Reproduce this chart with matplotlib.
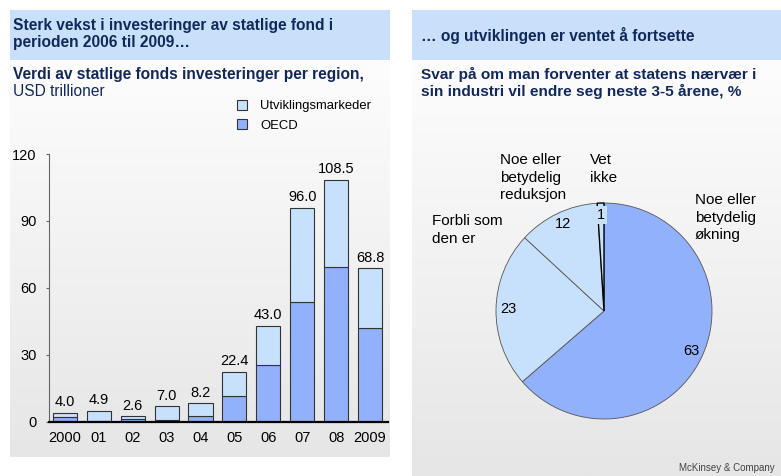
import numpy as np
import matplotlib
matplotlib.use("Agg")
import matplotlib.pyplot as plt
from matplotlib.patches import Rectangle
from matplotlib.colors import LinearSegmentedColormap

plt.rcParams['font.family'] = ['Liberation Sans', 'DejaVu Sans']

# bar chart data, USD trillions
years = ["2000", "01", "02", "03", "04", "05", "06", "07", "08", "2009"]
oecd = [2.2, 0.3, 1.0, 0.8, 2.5, 11.7, 25.3, 53.5, 69.4, 41.9]
totals = [4.0, 4.9, 2.6, 7.0, 8.2, 22.4, 43.0, 96.0, 108.5, 68.8]
emerging = [t - o for t, o in zip(totals, oecd)]

# survey answers, %
pie_values = [63, 23, 12, 1]

W, H = 781, 476
NAVY = "#13285a"
HEAD = "#c8e0fa"
DARK_BLUE = "#91b1fc"
LIGHT_BLUE = "#c7e0fb"


def fx(x):
    return x / W


def fy(y):
    return 1 - y / H


def add_box(x0, y0, x1, y1):
    # figure-fraction rect from pixel corners (y measured from the top)
    return [fx(x0), fy(y1), fx(x1) - fx(x0), fy(y0) - fy(y1)]


fig = plt.figure(figsize=(W / 100, H / 100), dpi=100)

# panel backgrounds: blue header, then a soft white-to-grey gradient
grad = np.linspace(0, 1, 256).reshape(-1, 1)
cmap = LinearSegmentedColormap.from_list("g", ["#fdfdfd", "#e6e6e6"])
for (x0, x1, ybot) in [(10, 390, 457), (412, 781, 476)]:
    bg = fig.add_axes(add_box(x0, 60, x1, ybot), zorder=-2)
    bg.imshow(grad, aspect="auto", cmap=cmap, extent=(0, 1, 0, 1))
    bg.axis("off")
    fig.patches.append(Rectangle((fx(x0), fy(60)), fx(x1) - fx(x0), fy(10) - fy(60),
                                 transform=fig.transFigure, facecolor=HEAD,
                                 edgecolor="none", zorder=-1))

# headings
fig.text(fx(13), fy(34), "Sterk vekst i investeringer av statlige fond i\nperioden 2006 til 2009…",
         fontsize=11.2, fontweight="bold", color=NAVY, va="center", linespacing=1.1)
fig.text(fx(13), fy(75), "Verdi av statlige fonds investeringer per region,",
         fontsize=11.2, fontweight="bold", color=NAVY, va="center")
fig.text(fx(13), fy(92), "USD trillioner", fontsize=11.2, color=NAVY, va="center")

fig.text(fx(421), fy(36), "… og utviklingen er ventet å fortsette",
         fontsize=11.2, fontweight="bold", color=NAVY, va="center")
fig.text(fx(421), fy(83), "Svar på om man forventer at statens nærvær i\nsin industri vil endre seg neste 3-5 årene, %",
         fontsize=11.1, fontweight="bold", color=NAVY, va="center", linespacing=1.1)

# stacked bars
ax = fig.add_axes(add_box(49, 154, 388, 421.7))
x = np.arange(len(years))
b1 = ax.bar(x, oecd, width=0.71, color=DARK_BLUE, edgecolor="#333333", linewidth=0.8)
b2 = ax.bar(x, emerging, bottom=oecd, width=0.71, color=LIGHT_BLUE,
            edgecolor="#333333", linewidth=0.8)
for xi, t in zip(x, totals):
    ax.text(xi, t + 1.5, f"{t:.1f}", ha="center", va="bottom", fontsize=10.5)
ax.set_xlim(-0.47, 9.53)
ax.set_ylim(0, 120)
ax.set_yticks([0, 30, 60, 90, 120])
ax.set_xticks(x, years)
ax.patch.set_alpha(0)
for s in ["top", "right"]:
    ax.spines[s].set_visible(False)
ax.spines["left"].set_color("#666666")
ax.spines["left"].set_linewidth(0.8)
ax.spines["bottom"].set_color("black")
ax.spines["bottom"].set_linewidth(1.6)
ax.tick_params(axis="y", length=2, width=0.8, color="#666666", labelsize=10.5, pad=7)
ax.tick_params(axis="x", length=0, labelsize=10.5, pad=7)

fig.legend([b2, b1], ["Utviklingsmarkeder", "OECD"], loc="upper left",
           bbox_to_anchor=(fx(225), fy(88)), frameon=False, fontsize=9.4,
           handlelength=0.8, handleheight=0.8, handletextpad=1.0, labelspacing=0.55)

# pie
r = 108
pax = fig.add_axes(add_box(604 - r, 311 - r, 604 + r, 311 + r))
wedges, _ = pax.pie(pie_values, startangle=90, counterclock=False,
                    colors=[DARK_BLUE, LIGHT_BLUE, LIGHT_BLUE, LIGHT_BLUE],
                    wedgeprops=dict(edgecolor="#555555", linewidth=0.6))
wedges[-1].set_edgecolor("black")
wedges[-1].set_linewidth(1.0)
pax.set_xlim(-1, 1)
pax.set_ylim(-1, 1)
pax.set_aspect("equal")
pax.axis("off")
for w, v in zip(wedges, pie_values):
    ang = np.deg2rad((w.theta1 + w.theta2) / 2)
    kw = {}
    if v == 1:
        kw["bbox"] = dict(facecolor=LIGHT_BLUE, edgecolor="none", pad=1.5)
    pax.text(0.89 * np.cos(ang), 0.89 * np.sin(ang), str(v), ha="center", va="center",
             fontsize=10.5, **kw)

pie_labels = [
    (500, 153, "Noe eller\nbetydelig\nreduksjon"),
    (590, 153, "Vet\nikke"),
    (695, 193, "Noe eller\nbetydelig\nøkning"),
    (432, 214, "Forbli som\nden er"),
]
for px_, py_, txt in pie_labels:
    fig.text(fx(px_), fy(py_), txt, fontsize=11, va="top", linespacing=1.32)

fig.text(fx(679), fy(468), "McKinsey & Company", fontsize=7, color="#444444",
         va="center", fontstretch="condensed")

fig.savefig("out.png", dpi=100)
